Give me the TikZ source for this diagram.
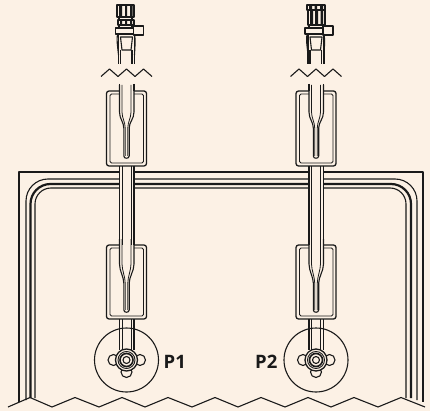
\documentclass[tikz,border=0pt]{standalone}
\usepackage{fontspec}
\setmainfont{Open Sans}
\definecolor{bgc}{HTML}{FCF1E5}
\definecolor{ink}{HTML}{1A1A1A}
\tikzset{
  x=1pt,y=-1pt,
  ln/.style={draw=ink,line width=1.1pt,line join=round},
  thin ln/.style={draw=ink,line width=0.9pt,line join=round},
  thick ln/.style={draw=ink,line width=2.2pt},
  lbl/.style={font=\bfseries\fontsize{18.5}{20}\selectfont,text=ink,inner sep=0pt},
  pics/assembly/.style={code={
    % zigzag under the head
    \draw[ln] (-25.5,76.5)--(-17,69)--(-8.5,76.5)--(0,69)--(8.5,76.5)--(17,69)--(25.5,76.5);
    % tube stub from head
    \draw[ln] (-8,34)--(-8,64) (-6,50)--(-6,64) (8,34)--(8,64) (5.5,50)--(5.5,64);
    % long tube between boxes, hiding the frame
    \fill[bgc] (-7,166) rectangle (7.5,245);
    % boxes with funnels
    \foreach \t/\b/\fa/\fb/\fe in {91/166/115/128/156,245/319/267/283/310}{
      \draw[ln,line width=1.3pt,rounded corners=2.5pt] (-20,\t) rectangle (20,\b);
      \draw[thin ln,rounded corners=1.5pt] (-16.5,\t+3) rectangle (17,\b-3);
      \fill[bgc] (-7,\t-1) rectangle (7.5,\t+4);
      \draw[ln] (-7,\t-6)--(-7,\fa-3) .. controls (-7,\fa+4) and (-2.7,\fb-6) .. (-2.7,\fb)
        --(-2.7,\fe) .. controls (-2.7,\fe+3) and (2.7,\fe+3) .. (2.7,\fe)--(2.7,\fb) .. controls (2.7,\fb-6) and (7.5,\fa+4) .. (7.5,\fa-3)--(7.5,\t-6);
      \draw[line width=0.8pt,draw=ink] (-4.5,\t-6)--(-4.5,\fa-3) .. controls (-4.5,\fa+3) and (-1.3,\fb-6) .. (-1.3,\fb)
        --(-1.3,\fe) (1.3,\fe)--(1.3,\fb) .. controls (1.3,\fb-6) and (4.5,\fa+3) .. (4.5,\fa-3)--(4.5,\t-6);
    }
    % tube walls
    \draw[ln] (-7,84)--(-7,91) (7.5,84)--(7.5,91);
    \draw[ln] (-7,166)--(-7,245) (7.5,166)--(7.5,245);
    \draw[thin ln] (-4.5,166)--(-4.5,245) (4.5,166)--(4.5,245);
    \draw[ln] (-7,319)--(-7,350) (7.5,319)--(7.5,350);
    \draw[thin ln] (-4.5,319)--(-4.5,350) (4.5,319)--(4.5,350);
    % disc and port
    \draw[ln] (0,360) circle[radius=32];
    \draw[ln,fill=bgc] (-13,360) circle[radius=5.5];
    \draw[ln,fill=bgc] (13.5,360) circle[radius=5.5];
    \draw[ln,fill=bgc] (0,372) circle[radius=5.5];
    \draw[line width=1.3pt,draw=ink,fill=bgc] (0,360) circle[radius=11];
    \draw[thin ln] (0,360) circle[radius=8.5];
    \draw[line width=1.6pt,draw=ink] (0,360) circle[radius=6.5];
    \draw[ln] (0,360) circle[radius=3.5];
    % common head body
    \draw[ln,fill=bgc] (7,26) rectangle (17,35);
    \draw[ln,fill=bgc] (-11,28) rectangle (7,34);
    \draw[ln] (-9,34) .. controls (-10,40) and (-9,45) .. (-8,55);
    \draw[ln] (8,34) .. controls (9,40) and (8.5,45) .. (8,55);
    \draw[ln] (-6,37)--(6,37)--(4.5,50)--(-4.5,50)--cycle;
  }}
}
\begin{document}
\begin{tikzpicture}
\useasboundingbox[fill=bgc] (0,0) rectangle (430,411);
% frame
\draw[ln] (19,402)--(19,172)--(423,172)--(423,402);
\draw[ln,rounded corners=22pt] (26,400)--(26,179)--(417,179)--(417,400);
\draw[thick ln,rounded corners=20pt] (30.5,398)--(30.5,184)--(411,184)--(411,398);
\draw[ln,rounded corners=16pt] (35,398)--(35,188)--(406,188)--(406,398);
% bottom break line
\draw[ln] (8,407)--(30,397.5)--(52,407)--(75,397.5)--(99,407)--(122,397.5)--(145,407)--(168,397.5)--(192,407)--(215,397.5)--(238,407)--(261,397.5)--(285,407)--(308,397.5)--(331,407)--(354,397.5)--(378,407)--(401,397.5)--(425,407);
% assemblies
\pic (a1) at (126.5,0) {assembly};
\pic (a2) at (316,0) {assembly};
% head 1
\draw[ln] (117,5) rectangle (134,17);
\fill[ink] (119,5) rectangle (122,17) (125,5) rectangle (127,17) (130,5) rectangle (132.5,17);
\draw[ln] (118,20) rectangle (134,25);
\fill[ink] (120,20) rectangle (122,25) (125,20) rectangle (127,25) (130,20) rectangle (132,25);
\draw[ln] (119,17)--(119,20) (132,17)--(132,20) (119,25)--(119,28) (132,25)--(132,28);
% head 2
\draw[ln] (307,5) rectangle (325,10);
\fill[ink] (309,5) rectangle (312,10) (314.5,5) rectangle (317,10) (320,5) rectangle (323,10);
\draw[ln] (308,10) rectangle (325,25);
\fill[ink] (310,10) rectangle (313,25) (315,10) rectangle (318,25) (320.5,10) rectangle (323,25);
\draw[ln] (309,25)--(309,28) (323,25)--(323,28);
% labels
\node[lbl,anchor=base west] (p1) at (163.5,368) {P1};
\node[lbl,anchor=base west] (p2) at (255,368) {P2};
\end{tikzpicture}
\end{document}
